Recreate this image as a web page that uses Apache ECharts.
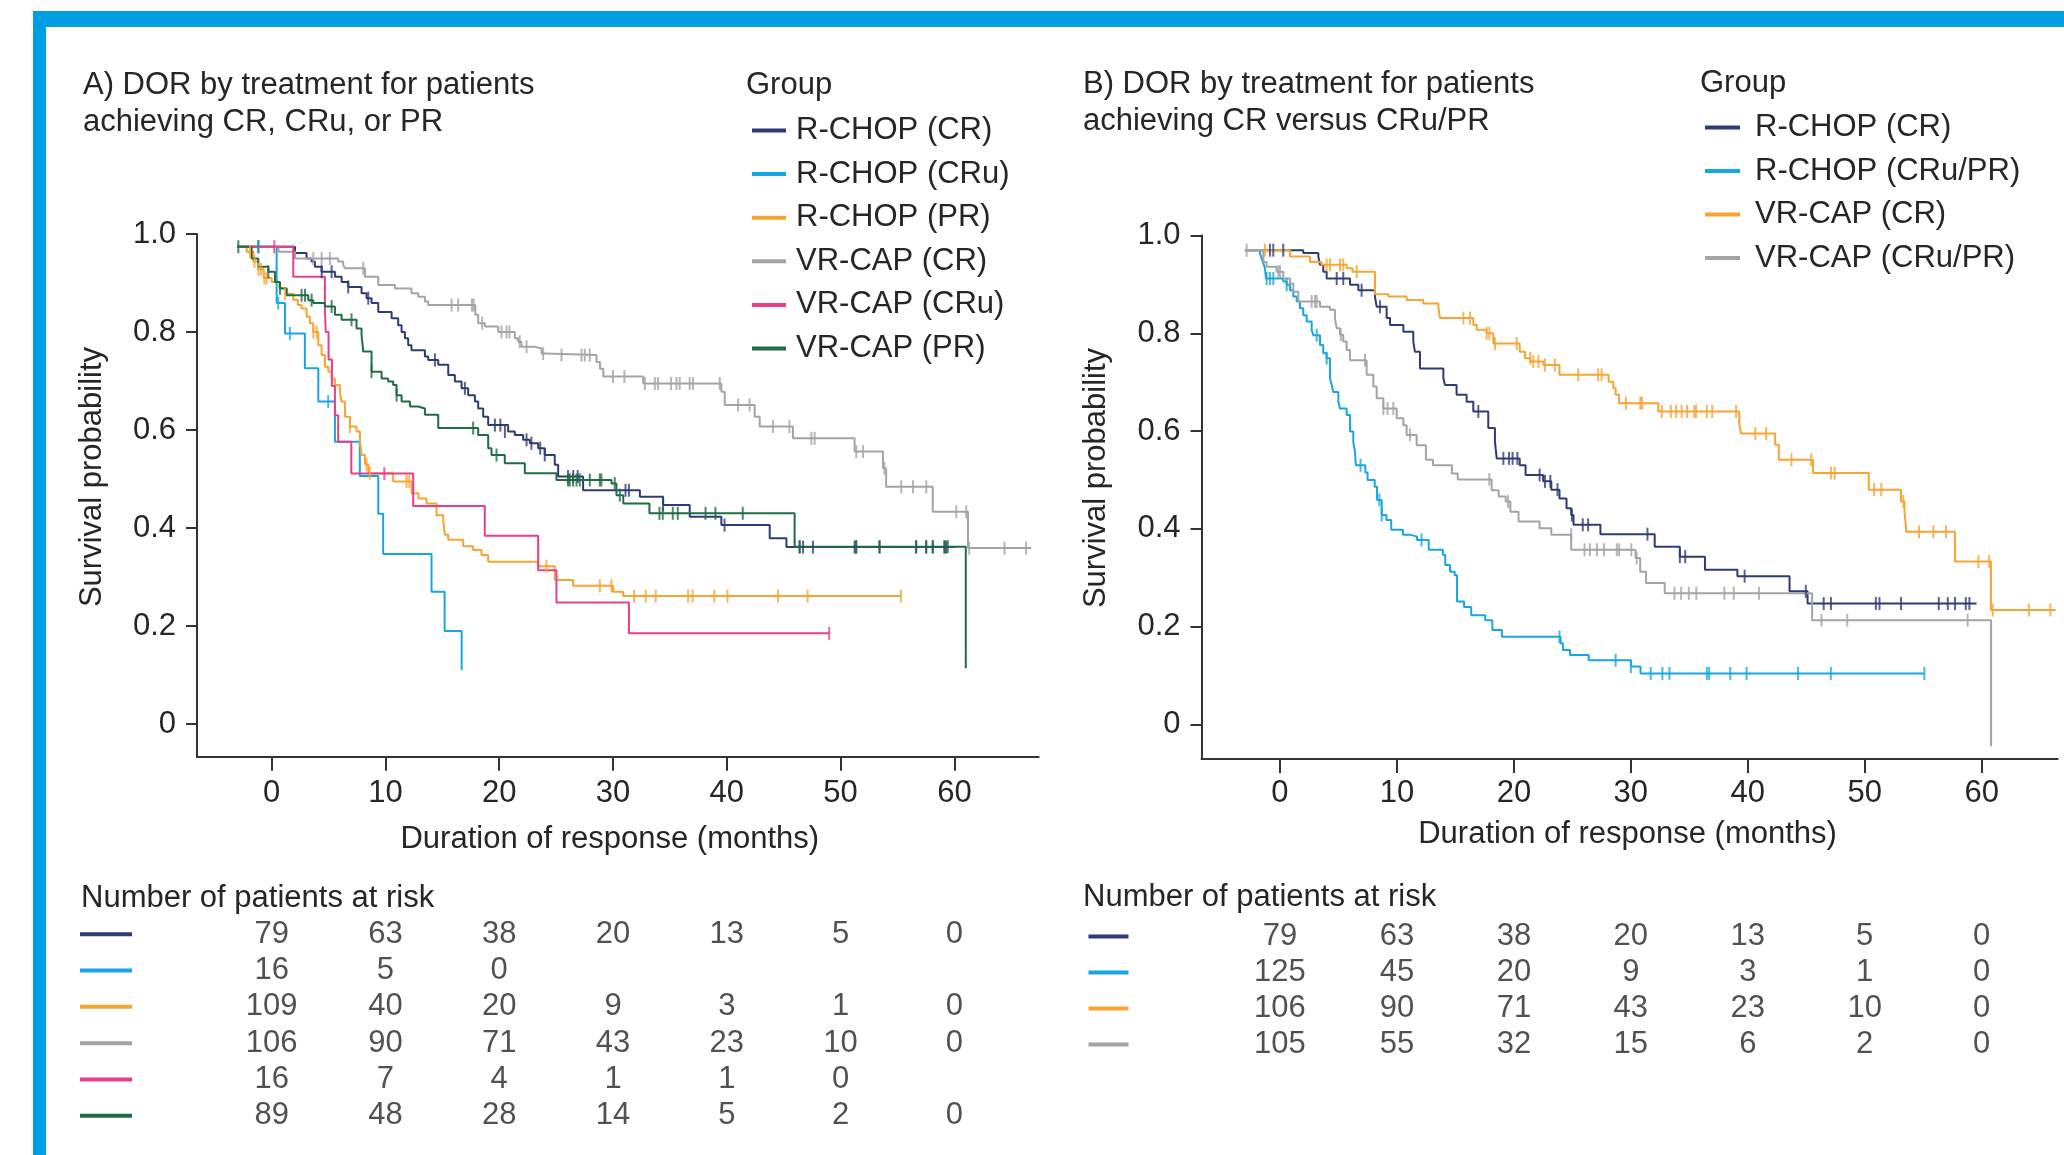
<!DOCTYPE html>
<html><head><meta charset="utf-8">
<script src="https://cdn.jsdelivr.net/npm/echarts@6/dist/echarts.min.js"></script>
<style>html,body{margin:0;padding:0;background:#fff}#c{width:2064px;height:1155px}</style>
</head><body><div id="c"></div>
<script>
// ---------- tick labels ----------
const xTicks = [0, 10, 20, 30, 40, 50, 60];
const yTicks = [0, 0.2, 0.4, 0.6, 0.8, 1.0];

// ---------- Panel A: step curves [month, survival] and censor marks ----------
const aRchopCR = [[-3,0.974],[2.05,0.961],[3.07,0.95],[3.51,0.944],[3.8,0.933],[4.39,0.923],[5.56,0.913],[6.15,0.902],[6.73,0.892],[7.9,0.879],[8.34,0.869],[8.78,0.859],[9.37,0.841],[10.54,0.828],[11.12,0.814],[11.42,0.8],[11.71,0.787],[12.0,0.773],[12.29,0.763],[13.47,0.75],[13.76,0.743],[14.64,0.733],[15.52,0.712],[16.1,0.699],[16.69,0.685],[17.27,0.671],[17.86,0.658],[18.15,0.644],[18.59,0.627],[19.03,0.61],[20.78,0.597],[21.37,0.59],[22.1,0.58],[22.69,0.573],[23.42,0.563],[24.0,0.549],[24.88,0.529],[25.18,0.505],[27.37,0.477],[32.36,0.464],[34.4,0.447],[36.74,0.423],[39.52,0.406],[43.77,0.379],[45.24,0.361],[60.0,0.361]];
const aRchopCRCens = [[-1.17,0.974],[4.4,0.923],[5.27,0.923],[6.73,0.892],[8.49,0.869],[14.35,0.743],[16.98,0.685],[19.62,0.61],[20.1,0.61],[20.5,0.597],[22.4,0.58],[22.83,0.573],[23.6,0.563],[24.0,0.549],[26.05,0.505],[26.5,0.505],[26.9,0.505],[31.1,0.477],[31.4,0.477],[34.4,0.447],[39.8,0.406],[46.4,0.361],[46.7,0.361],[47.57,0.361],[51.23,0.361],[51.37,0.361],[53.42,0.361],[56.64,0.361],[57.52,0.361],[58.1,0.361],[59.13,0.361],[59.27,0.361]];

const aRchopCRu = [[-3,0.974],[0.44,0.859],[1.17,0.797],[2.92,0.726],[4.1,0.658],[5.56,0.576],[7.75,0.506],[9.37,0.429],[9.8,0.347],[14.05,0.27],[15.2,0.19],[16.7,0.11]];
const aRchopCRuCens = [[-1.17,0.974],[0.58,0.859],[1.6,0.797],[4.97,0.658]];

const aRchopPR = [[-3,0.974],[-2.2,0.964],[-1.6,0.944],[-1.2,0.928],[-0.7,0.91],[0.0,0.902],[0.7,0.89],[1.3,0.878],[1.9,0.866],[2.3,0.855],[2.63,0.848],[3.07,0.831],[3.36,0.818],[3.66,0.8],[4.1,0.773],[4.39,0.753],[4.68,0.729],[4.98,0.719],[5.27,0.705],[5.56,0.692],[6.0,0.678],[6.15,0.658],[6.44,0.627],[6.88,0.607],[7.46,0.597],[7.76,0.58],[7.9,0.549],[8.2,0.53],[8.5,0.512],[10.68,0.495],[12.3,0.471],[12.9,0.46],[13.61,0.45],[14.49,0.426],[15.08,0.416],[15.22,0.386],[15.52,0.376],[16.83,0.363],[17.71,0.355],[18.44,0.345],[19.03,0.331],[23.42,0.322],[24.88,0.294],[26.49,0.282],[30.0,0.27],[30.89,0.261],[55.3,0.261]];
const aRchopPRCens = [[-1.9,0.964],[-1.5,0.944],[-1.17,0.928],[-0.94,0.928],[-0.64,0.91],[-0.44,0.91],[1.17,0.878],[3.66,0.8],[3.95,0.8],[6.88,0.607],[8.34,0.53],[8.63,0.512],[11.85,0.495],[12.1,0.495],[24.15,0.322],[28.84,0.282],[29.86,0.282],[31.85,0.261],[32.88,0.261],[33.75,0.261],[36.6,0.261],[37.0,0.261],[38.9,0.261],[40.05,0.261],[44.5,0.261],[47.1,0.261],[55.3,0.261]];

const aVrcapCR = [[-3,0.974],[0.6,0.964],[2.05,0.95],[5.85,0.944],[6.29,0.937],[6.44,0.93],[8.2,0.913],[9.37,0.896],[10.83,0.889],[12.29,0.879],[12.88,0.872],[13.47,0.862],[13.76,0.855],[17.9,0.835],[18.15,0.818],[18.74,0.811],[19.91,0.8],[21.37,0.787],[21.66,0.78],[21.96,0.77],[23.13,0.766],[23.72,0.756],[24.0,0.753],[28.55,0.739],[28.85,0.725],[29.15,0.709],[32.66,0.695],[39.52,0.678],[39.82,0.651],[42.45,0.627],[42.89,0.607],[45.81,0.583],[51.23,0.556],[53.72,0.522],[54.0,0.484],[58.1,0.433],[61.19,0.359],[66.75,0.359]];
const aVrcapCRCens = [[3.66,0.95],[4.39,0.95],[5.12,0.95],[8.05,0.93],[15.81,0.855],[16.39,0.855],[17.6,0.855],[17.75,0.855],[18.5,0.818],[20.2,0.8],[20.64,0.8],[20.9,0.8],[21.8,0.78],[22.4,0.77],[23.86,0.756],[25.47,0.753],[27.23,0.753],[27.52,0.753],[27.96,0.753],[30.0,0.709],[31.0,0.709],[32.8,0.695],[33.67,0.695],[33.96,0.695],[35.1,0.695],[35.57,0.695],[35.86,0.695],[36.74,0.695],[37.03,0.695],[39.38,0.695],[40.99,0.651],[42.0,0.651],[44.06,0.607],[45.5,0.607],[47.43,0.583],[47.72,0.583],[51.38,0.556],[51.97,0.556],[53.85,0.522],[55.33,0.484],[56.36,0.484],[57.53,0.484],[60.16,0.433],[61.04,0.433],[61.3,0.359],[64.4,0.359],[66.3,0.359]];

const aVrcapCRu = [[-3,0.974],[1.9,0.913],[4.68,0.85],[4.75,0.8],[5.0,0.744],[5.3,0.69],[5.56,0.63],[5.85,0.576],[7.0,0.511],[12.44,0.445],[18.73,0.384],[23.42,0.314],[25.03,0.248],[31.4,0.185],[49.0,0.185]];
const aVrcapCRuCens = [[0.23,0.974],[9.9,0.511],[49.0,0.185]];

const aVrcapPR = [[-3,0.974],[-1.76,0.95],[-1.17,0.933],[-0.29,0.923],[0.29,0.902],[0.73,0.889],[1.32,0.875],[3.22,0.865],[3.66,0.859],[4.68,0.852],[5.56,0.835],[6.15,0.825],[7.46,0.807],[7.9,0.794],[8.05,0.76],[8.78,0.719],[9.66,0.705],[10.24,0.699],[10.68,0.692],[10.98,0.671],[11.42,0.658],[12.15,0.648],[12.88,0.644],[13.47,0.631],[14.64,0.604],[18.15,0.59],[19.03,0.563],[19.32,0.549],[20.49,0.532],[22.25,0.512],[25.03,0.498],[29.86,0.491],[30.3,0.467],[30.9,0.45],[33.2,0.43],[45.96,0.362],[61.0,0.114]];
const aVrcapPRCens = [[-2.93,0.974],[-0.29,0.923],[0.73,0.889],[2.63,0.875],[2.93,0.875],[3.51,0.865],[5.27,0.852],[7.02,0.825],[8.78,0.719],[10.98,0.671],[17.71,0.604],[19.76,0.549],[26.05,0.498],[26.2,0.498],[26.49,0.498],[26.79,0.498],[27.08,0.498],[27.96,0.498],[28.84,0.498],[28.98,0.498],[30.15,0.491],[30.6,0.467],[34.08,0.43],[34.37,0.43],[35.25,0.43],[35.69,0.43],[38.13,0.43],[39.0,0.43],[41.4,0.43],[46.4,0.362],[51.37,0.362],[53.42,0.362],[56.64,0.362],[57.52,0.362],[58.1,0.362],[59.13,0.362],[59.42,0.362]];

// ---------- Panel B ----------
const bRchopCR = [[-3,0.97],[1.99,0.964],[3.28,0.957],[3.42,0.94],[3.7,0.926],[3.99,0.912],[5.99,0.899],[6.7,0.888],[8.12,0.875],[8.27,0.854],[9.12,0.831],[9.41,0.817],[10.55,0.803],[11.4,0.783],[11.54,0.762],[11.97,0.728],[13.97,0.708],[14.11,0.694],[15.1,0.674],[15.96,0.66],[16.53,0.64],[17.81,0.606],[18.38,0.579],[18.53,0.544],[20.5,0.53],[21.0,0.51],[22.5,0.497],[23.2,0.48],[23.9,0.462],[24.5,0.442],[24.9,0.428],[25.1,0.408],[27.4,0.389],[32.04,0.363],[34.19,0.343],[36.34,0.316],[39.11,0.303],[43.57,0.272],[45.11,0.247],[59.56,0.247]];
const bRchopCRCens = [[-0.86,0.97],[-0.57,0.97],[0.28,0.97],[4.85,0.912],[5.41,0.912],[6.98,0.888],[8.55,0.854],[16.96,0.64],[19.1,0.544],[19.58,0.544],[19.89,0.544],[20.3,0.544],[22.2,0.51],[22.66,0.497],[23.12,0.497],[23.73,0.48],[24.96,0.428],[25.89,0.408],[26.35,0.408],[31.42,0.389],[34.19,0.343],[34.65,0.343],[39.73,0.303],[44.96,0.272],[46.49,0.247],[47.11,0.247],[50.95,0.247],[51.26,0.247],[53.1,0.247],[56.33,0.247],[57.1,0.247],[57.72,0.247],[58.64,0.247],[58.95,0.247]];

const bRchopCRuPR = [[-3,0.97],[-1.71,0.964],[-1.57,0.953],[-1.42,0.943],[-1.28,0.933],[-1.2,0.912],[0.28,0.906],[0.57,0.899],[0.86,0.888],[1.14,0.875],[1.43,0.865],[1.71,0.851],[1.99,0.837],[2.28,0.824],[2.71,0.807],[2.85,0.796],[3.42,0.776],[3.7,0.759],[3.99,0.749],[4.28,0.708],[4.42,0.694],[4.56,0.68],[4.99,0.66],[5.13,0.646],[5.7,0.633],[5.99,0.599],[6.27,0.578],[6.41,0.558],[6.49,0.53],[7.3,0.515],[7.49,0.5],[8.1,0.486],[8.3,0.459],[8.7,0.428],[9.1,0.418],[9.51,0.398],[10.51,0.388],[11.12,0.384],[11.72,0.377],[12.72,0.357],[13.93,0.347],[14.13,0.326],[14.54,0.312],[14.94,0.305],[15.14,0.251],[15.74,0.24],[16.35,0.223],[17.55,0.213],[18.16,0.193],[18.97,0.179],[23.99,0.166],[24.19,0.152],[24.8,0.142],[26.4,0.131],[30.03,0.118],[30.83,0.104],[55.1,0.104]];
const bRchopCRuPRCens = [[-1.14,0.912],[-0.86,0.912],[-0.57,0.912],[0.57,0.899],[3.14,0.796],[3.99,0.749],[6.89,0.53],[8.5,0.459],[8.7,0.428],[12.1,0.377],[23.9,0.179],[28.7,0.131],[30.0,0.118],[31.7,0.104],[32.7,0.104],[33.3,0.104],[36.5,0.104],[36.7,0.104],[38.5,0.104],[39.9,0.104],[44.3,0.104],[47.1,0.104],[55.1,0.104]];

const bVrcapCR = [[-3,0.97],[0.86,0.957],[2.57,0.946],[3.56,0.94],[5.7,0.933],[6.2,0.926],[8.12,0.88],[9.27,0.875],[10.83,0.868],[12.25,0.861],[13.54,0.854],[13.68,0.831],[16.53,0.817],[16.82,0.807],[17.67,0.8],[18.24,0.779],[20.5,0.762],[20.95,0.749],[21.4,0.742],[22.52,0.735],[23.9,0.715],[28.1,0.701],[28.5,0.688],[28.7,0.674],[29.0,0.657],[32.35,0.64],[39.27,0.616],[39.42,0.595],[42.34,0.572],[42.65,0.541],[45.57,0.514],[50.34,0.48],[53.1,0.456],[53.4,0.435],[53.56,0.394],[57.72,0.333],[60.79,0.234],[66.33,0.234]];
const bVrcapCRCens = [[-1.28,0.97],[3.99,0.94],[4.28,0.94],[5.13,0.94],[5.41,0.94],[6.56,0.926],[8.12,0.906],[15.68,0.831],[16.25,0.831],[17.67,0.8],[17.9,0.8],[18.38,0.779],[20.24,0.779],[21.4,0.749],[21.66,0.742],[22.09,0.742],[22.66,0.735],[23.5,0.735],[25.5,0.715],[27.2,0.715],[27.5,0.715],[29.58,0.657],[30.81,0.657],[30.96,0.657],[32.65,0.64],[33.42,0.64],[33.88,0.64],[34.34,0.64],[34.81,0.64],[35.42,0.64],[35.58,0.64],[36.5,0.64],[36.96,0.64],[39.0,0.64],[40.65,0.595],[41.57,0.595],[43.73,0.541],[45.42,0.541],[47.11,0.514],[47.42,0.514],[50.8,0.48],[51.41,0.48],[53.3,0.456],[54.64,0.394],[55.87,0.394],[56.95,0.394],[59.72,0.333],[60.64,0.333],[60.95,0.234],[64.03,0.234],[65.87,0.234]];

const bVrcapCRuPR = [[-3,0.97],[-1.42,0.946],[-1.14,0.936],[-0.29,0.926],[0.28,0.912],[0.86,0.902],[1.14,0.885],[1.57,0.865],[3.42,0.854],[4.28,0.848],[4.7,0.83],[4.85,0.81],[5.13,0.797],[5.41,0.783],[5.7,0.766],[5.99,0.745],[7.41,0.715],[7.98,0.691],[8.27,0.667],[8.84,0.646],[9.98,0.626],[10.55,0.612],[10.83,0.592],[11.69,0.571],[12.48,0.541],[13.08,0.53],[14.7,0.513],[15.2,0.501],[18.1,0.479],[18.7,0.466],[19.3,0.456],[19.7,0.435],[20.4,0.415],[22.2,0.401],[23.2,0.388],[24.9,0.357],[30.4,0.34],[30.8,0.312],[31.3,0.289],[32.9,0.268],[45.5,0.213],[60.8,-0.045]];
const bVrcapCRuPRCens = [[-2.85,0.97],[-0.14,0.926],[0.0,0.926],[2.71,0.865],[3.0,0.865],[3.14,0.865],[5.2,0.797],[7.27,0.745],[8.84,0.646],[9.2,0.646],[9.69,0.646],[11.12,0.592],[17.9,0.501],[19.5,0.456],[24.9,0.388],[26.04,0.357],[26.5,0.357],[27.1,0.357],[27.7,0.357],[28.8,0.357],[29.0,0.357],[30.04,0.357],[30.5,0.34],[33.73,0.268],[34.3,0.268],[34.96,0.268],[35.6,0.268],[38.0,0.268],[38.8,0.268],[40.96,0.268],[46.3,0.213],[48.5,0.213],[58.8,0.213]];

// ---------- Number at risk (at months 0,10,...,60) ----------
const riskARchopCR  = [79, 63, 38, 20, 13, 5, 0];
const riskARchopCRu = [16, 5, 0];
const riskARchopPR  = [109, 40, 20, 9, 3, 1, 0];
const riskAVrcapCR  = [106, 90, 71, 43, 23, 10, 0];
const riskAVrcapCRu = [16, 7, 4, 1, 1, 0];
const riskAVrcapPR  = [89, 48, 28, 14, 5, 2, 0];
const riskBRchopCR    = [79, 63, 38, 20, 13, 5, 0];
const riskBRchopCRuPR = [125, 45, 20, 9, 3, 1, 0];
const riskBVrcapCR    = [106, 90, 71, 43, 23, 10, 0];
const riskBVrcapCRuPR = [105, 55, 32, 15, 6, 2, 0];

// ---------- styling ----------
const NAVY = '#2e3c76', CYAN = '#17a6e0', ORANGE = '#f6a432', GRAY = '#a2a4a7', PINK = '#e83e8c', GREEN = '#1f6c45';
const BLUE = '#009fe3';
const TXT = '#262626', AX = '#333333';
const FONT = '"Liberation Sans", Arial, Helvetica, sans-serif';
const FS = 31;

const A = { left: 197, top: 234, width: 841.6, height: 522.7, xmin: -6.56, xmax: 67.4, ymin: -0.0667 };
const B = { left: 1201.5, top: 235.5, width: 856.1, height: 523.5, xmin: -6.71, xmax: 66.49, ymin: -0.071 };

const seriesA = [
  ['A: R-CHOP (CR)', aRchopCR, aRchopCRCens, NAVY],
  ['A: R-CHOP (CRu)', aRchopCRu, aRchopCRuCens, CYAN],
  ['A: R-CHOP (PR)', aRchopPR, aRchopPRCens, ORANGE],
  ['A: VR-CAP (CR)', aVrcapCR, aVrcapCRCens, GRAY],
  ['A: VR-CAP (CRu)', aVrcapCRu, aVrcapCRuCens, PINK],
  ['A: VR-CAP (PR)', aVrcapPR, aVrcapPRCens, GREEN]
];
const seriesB = [
  ['B: R-CHOP (CR)', bRchopCR, bRchopCRCens, NAVY],
  ['B: R-CHOP (CRu/PR)', bRchopCRuPR, bRchopCRuPRCens, CYAN],
  ['B: VR-CAP (CR)', bVrcapCR, bVrcapCRCens, ORANGE],
  ['B: VR-CAP (CRu/PR)', bVrcapCRuPR, bVrcapCRuPRCens, GRAY]
];
const risksA = [riskARchopCR, riskARchopCRu, riskARchopPR, riskAVrcapCR, riskAVrcapCRu, riskAVrcapPR];
const risksB = [riskBRchopCR, riskBRchopCRuPR, riskBVrcapCR, riskBVrcapCRuPR];

function kmLine(name, data, color, idx) {
  return { type: 'line', name, data, step: 'end', xAxisIndex: idx, yAxisIndex: idx,
    showSymbol: false, symbol: 'none', lineStyle: { color, width: 2 }, itemStyle: { color },
    animation: false, silent: true, z: 2, clip: false };
}
function censor(name, data, color, idx) {
  return { type: 'scatter', name: name + ' censored', data, xAxisIndex: idx, yAxisIndex: idx,
    symbol: 'rect', symbolSize: [2, 13], itemStyle: { color }, animation: false, silent: true, z: 3 };
}
function riskSeries(rows, idx) {
  return rows.map((vals, r) => ({
    type: 'scatter', xAxisIndex: idx, yAxisIndex: idx, silent: true, animation: false,
    data: vals.map((v, i) => [xTicks[i], r, v]), symbolSize: 1,
    itemStyle: { color: 'rgba(0,0,0,0)' },
    label: { show: true, position: 'inside', formatter: p => String(p.data[2]), fontSize: FS, color: TXT, fontFamily: FONT }
  }));
}
const txt = { fontSize: FS, color: TXT, fontFamily: FONT, fontWeight: 'normal' };

function plotX(g, P, nameGap, labelMargin, namePad) {
  return { type: 'value', gridIndex: g, min: P.xmin, max: P.xmax,
    axisLine: { show: true, onZero: false, lineStyle: { color: AX, width: 2 } },
    axisTick: { show: true, length: 14, customValues: xTicks, lineStyle: { color: AX, width: 2 } },
    axisLabel: { customValues: xTicks, margin: labelMargin, ...txt },
    splitLine: { show: false },
    name: 'Duration of response (months)', nameLocation: 'middle', nameGap,
    nameTextStyle: { ...txt, padding: namePad } };
}
function plotY(g, P) {
  return { type: 'value', gridIndex: g, min: P.ymin, max: 1,
    axisLine: { show: true, onZero: false, lineStyle: { color: AX, width: 2 } },
    axisTick: { show: true, length: 11, customValues: yTicks, lineStyle: { color: AX, width: 2 } },
    axisLabel: { customValues: yTicks, margin: 21, formatter: v => (v === 0 ? '0' : v.toFixed(1)), ...txt },
    splitLine: { show: false } };
}
function tableX(g, P) {
  return { type: 'value', gridIndex: g, min: P.xmin, max: P.xmax, show: false, splitLine: { show: false } };
}
function tableY(g, rows, colors, markW, margin) {
  const rich = {};
  colors.forEach((c, i) => { rich['r' + i] = { width: markW, height: 4, backgroundColor: c, fontSize: 4, lineHeight: 4 }; });
  return { type: 'category', gridIndex: g, inverse: true, data: rows,
    axisLine: { show: false }, axisTick: { show: false }, splitLine: { show: false },
    axisLabel: { margin, formatter: (v, i) => '{r' + i + '| }', rich } };
}

const series = [];
seriesA.forEach(s => series.push(kmLine(s[0], s[1], s[3], 0)));
seriesA.forEach(s => series.push(censor(s[0], s[2], s[3], 0)));
seriesB.forEach(s => series.push(kmLine(s[0], s[1], s[3], 1)));
seriesB.forEach(s => series.push(censor(s[0], s[2], s[3], 1)));
series.push(...riskSeries(risksA, 2));
series.push(...riskSeries(risksB, 3));

const titleBase = { padding: 0, textStyle: { ...txt, lineHeight: 37 } };
const option = {
  backgroundColor: '#ffffff',
  animation: false,
  title: [
    { ...titleBase, text: 'A) DOR by treatment for patients\nachieving CR, CRu, or PR', left: 83, top: 67 },
    { ...titleBase, text: 'Group', left: 746, top: 67 },
    { ...titleBase, text: 'B) DOR by treatment for patients\nachieving CR versus CRu/PR', left: 1083, top: 66 },
    { ...titleBase, text: 'Group', left: 1700, top: 65 },
    { ...titleBase, text: 'Number of patients at risk', left: 81, top: 879.5 },
    { ...titleBase, text: 'Number of patients at risk', left: 1083, top: 878.5 }
  ],
  legend: [
    { data: seriesA.map(s => s[0]), orient: 'vertical', left: 752, top: 113.5, padding: 0,
      itemWidth: 34, itemHeight: 4, itemGap: 9.6, icon: 'rect', selectedMode: false,
      formatter: n => n.slice(3), textStyle: { ...txt, lineHeight: 34, padding: [0, 0, 0, 5] } },
    { data: seriesB.map(s => s[0]), orient: 'vertical', left: 1705, top: 110.5, padding: 0,
      itemWidth: 35, itemHeight: 4, itemGap: 9.5, icon: 'rect', selectedMode: false,
      formatter: n => n.slice(3), textStyle: { ...txt, lineHeight: 34, padding: [0, 0, 0, 10] } }
  ],
  grid: [
    { left: A.left, top: A.top, width: A.width, height: A.height },
    { left: B.left, top: B.top, width: B.width, height: B.height },
    { left: A.left, top: 916, width: A.width, height: 218 },
    { left: B.left, top: 918.5, width: B.width, height: 144 }
  ],
  xAxis: [plotX(0, A, 67, 21, [0, 16, 0, 0]), plotX(1, B, 60, 19, [0, 4, 0, 0]), tableX(2, A), tableX(3, B)],
  yAxis: [plotY(0, A), plotY(1, B),
    tableY(2, ['a1','a2','a3','a4','a5','a6'], [NAVY, CYAN, ORANGE, GRAY, PINK, GREEN], 52, 65),
    tableY(3, ['b1','b2','b3','b4'], [NAVY, CYAN, ORANGE, GRAY], 40, 73)],
  graphic: [
    { type: 'rect', shape: { x: 33, y: 11, width: 2031, height: 16 }, style: { fill: BLUE }, silent: true },
    { type: 'rect', shape: { x: 33, y: 11, width: 13, height: 1144 }, style: { fill: BLUE }, silent: true },
    { type: 'text', x: 92, y: 477, rotation: Math.PI / 2, silent: true,
      style: { text: 'Survival probability', fontSize: FS, fontFamily: FONT, fill: TXT, align: 'center', verticalAlign: 'middle' } },
    { type: 'text', x: 1096, y: 478, rotation: Math.PI / 2, silent: true,
      style: { text: 'Survival probability', fontSize: FS, fontFamily: FONT, fill: TXT, align: 'center', verticalAlign: 'middle' } }
  ],
  series
};
const chart = echarts.init(document.getElementById('c'), null, { renderer: 'canvas' });
chart.setOption(option);
</script></body></html>
